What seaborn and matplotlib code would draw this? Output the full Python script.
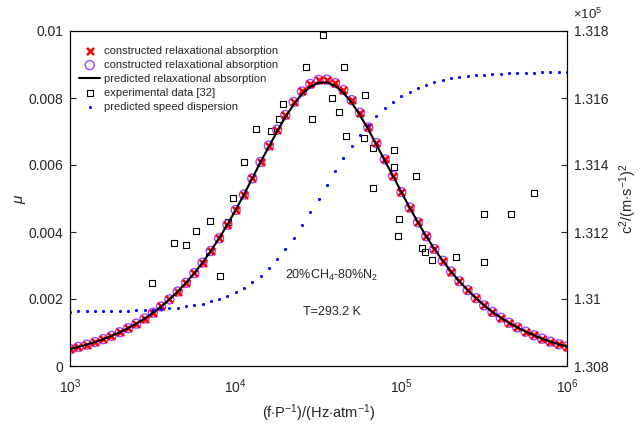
import numpy as np
import pandas as pd
import matplotlib
matplotlib.use("Agg")
import matplotlib.pyplot as plt
import seaborn as sns
from matplotlib.ticker import FixedLocator, LogLocator, NullFormatter

# ---------------- data ----------------
freq = [1000, 1122, 1259, 1413, 1585, 1778, 1995, 2239, 2512, 2818,
        3162, 3548, 3981, 4467, 5012, 5623, 6310, 7079, 7943, 8913,
        10000, 11220, 12589, 14125, 15849, 17783, 19953, 22387, 25119, 28184,
        31623, 35481, 39811, 44668, 50119, 56234, 63096, 70795, 79433, 89125,
        100000, 112202, 125893, 141254, 158489, 177828, 199526, 223872, 251189, 281838,
        316228, 354813, 398107, 446684, 501187, 562341, 630957, 707946, 794328, 891251,
        1000000]

mu_constructed = [0.000506, 0.000568, 0.000637, 0.000714, 0.000801, 0.000898, 0.001007, 0.001129,
                  0.001265, 0.001417, 0.001588, 0.001777, 0.001988, 0.002223, 0.002483, 0.002771,
                  0.003088, 0.003434, 0.003812, 0.004220, 0.004657, 0.005118, 0.005599, 0.006090,
                  0.006580, 0.007054, 0.007494, 0.007881, 0.008196, 0.008420, 0.008541, 0.008550,
                  0.008447, 0.008238, 0.007937, 0.007560, 0.007127, 0.006657, 0.006169, 0.005677,
                  0.005194, 0.004729, 0.004288, 0.003875, 0.003493, 0.003141, 0.002820, 0.002528,
                  0.002263, 0.002024, 0.001809, 0.001616, 0.001443, 0.001288, 0.001150, 0.001026,
                  0.000915, 0.000816, 0.000727, 0.000648, 0.000578]

mu_predicted = [0.000506, 0.000568, 0.000637, 0.000714, 0.000801, 0.000898, 0.001007, 0.001129,
                0.001265, 0.001417, 0.001588, 0.001777, 0.001988, 0.002223, 0.002483, 0.002771,
                0.003088, 0.003434, 0.003812, 0.004220, 0.004657, 0.005118, 0.005599, 0.006090,
                0.006540, 0.007000, 0.007430, 0.007810, 0.008115, 0.008335, 0.008455, 0.008465,
                0.008365, 0.008160, 0.007860, 0.007490, 0.007065, 0.006605, 0.006125, 0.005677,
                0.005194, 0.004729, 0.004288, 0.003875, 0.003493, 0.003141, 0.002820, 0.002528,
                0.002263, 0.002024, 0.001809, 0.001616, 0.001443, 0.001288, 0.001150, 0.001026,
                0.000915, 0.000816, 0.000727, 0.000648, 0.000578]

# squared sound speed, in units of 1e5 (m/s)^2
c2_predicted = [1.309626, 1.309628, 1.309630, 1.309633, 1.309636, 1.309640, 1.309645, 1.309652,
                1.309660, 1.309670, 1.309683, 1.309700, 1.309720, 1.309745, 1.309777, 1.309816,
                1.309865, 1.309926, 1.310001, 1.310093, 1.310206, 1.310342, 1.310506, 1.310701,
                1.310930, 1.311194, 1.311495, 1.311831, 1.312197, 1.312588, 1.312994, 1.313406,
                1.313812, 1.314203, 1.314569, 1.314905, 1.315206, 1.315470, 1.315699, 1.315894,
                1.316058, 1.316194, 1.316307, 1.316399, 1.316474, 1.316535, 1.316584, 1.316623,
                1.316655, 1.316680, 1.316701, 1.316717, 1.316730, 1.316740, 1.316748, 1.316755,
                1.316760, 1.316764, 1.316767, 1.316770, 1.316772]

exp_freq = [3112, 4246, 5012, 5781, 6901, 6998, 8037, 8985, 9683, 11225,
            13207, 16259, 18183, 19230, 26560, 28850, 33800, 37950, 41990, 45190,
            46300, 59200, 60530, 67100, 67630, 90160, 90570, 96340, 95350, 122400,
            132500, 138700, 153000, 214500, 313900, 313900, 460600, 631000]
exp_mu = [0.002469, 0.003663, 0.003603, 0.004021, 0.003412, 0.004319, 0.002687, 0.004307, 0.005024, 0.006081,
          0.007075, 0.007024, 0.007373, 0.007812, 0.008934, 0.007373, 0.009872, 0.008009, 0.007573, 0.008934,
          0.006875, 0.006815, 0.008081, 0.006516, 0.005304, 0.006457, 0.005949, 0.004379, 0.003890, 0.005672,
          0.003522, 0.003403, 0.003173, 0.003254, 0.004528, 0.003113, 0.004528, 0.005164]

left_ticks = [0, 0.002, 0.004, 0.006, 0.008, 0.01]
left_ticklabels = ["0", "0.002", "0.004", "0.006", "0.008", "0.01"]
right_ticks = [1.308, 1.310, 1.312, 1.314, 1.316, 1.318]
right_ticklabels = ["1.308", "1.31", "1.312", "1.314", "1.316", "1.318"]
x_ticks = [1e3, 1e4, 1e5, 1e6]
x_ticklabels = ["$10^{3}$", "$10^{4}$", "$10^{5}$", "$10^{6}$"]

legend_labels = ["constructed relaxational absorption",
                 "constructed relaxational absorption",
                 "predicted relaxational absorption",
                 "experimental data [32]",
                 "predicted speed dispersion"]

# ---------------- style ----------------
sns.set_style("white")
plt.rcParams["font.family"] = ["Liberation Sans", "DejaVu Sans"]
plt.rcParams["mathtext.fontset"] = "custom"
plt.rcParams["mathtext.rm"] = "Liberation Sans"
plt.rcParams["mathtext.it"] = "Liberation Sans:italic"
plt.rcParams["mathtext.bf"] = "Liberation Sans:bold"
plt.rcParams["axes.edgecolor"] = "black"
plt.rcParams["axes.linewidth"] = 0.8

df_main = pd.DataFrame({"f": freq, "mu_c": mu_constructed, "mu_p": mu_predicted, "c2": c2_predicted})
df_exp = pd.DataFrame({"f": exp_freq, "mu": exp_mu})

fig = plt.figure(figsize=(6.44, 4.26), dpi=100)
ax = fig.add_axes([70 / 644, 1 - 366 / 426, 497 / 644, 335 / 426])
ax2 = ax.twinx()
ax2.set_position(ax.get_position())

# left axis: absorption
sns.scatterplot(data=df_main, x="f", y="mu_c", ax=ax, marker="o", s=42,
                facecolors="none", edgecolor="#a347ff", linewidth=1.0,
                label=legend_labels[1], legend=False, zorder=3)
sns.scatterplot(data=df_main, x="f", y="mu_c", ax=ax, marker="x", s=26,
                color="#ff0000", linewidth=1.8, label=legend_labels[0], legend=False, zorder=4)
sns.lineplot(data=df_main, x="f", y="mu_p", ax=ax, color="black", linewidth=1.5,
             label=legend_labels[2], legend=False, zorder=5)
sns.scatterplot(data=df_exp, x="f", y="mu", ax=ax, marker="s", s=18,
                facecolors="none", edgecolor="black", linewidth=0.8,
                label=legend_labels[3], legend=False, zorder=2)

# right axis: speed dispersion
sns.scatterplot(data=df_main, x="f", y="c2", ax=ax2, marker="o", s=5,
                color="#0000ff", linewidth=0, label=legend_labels[4], legend=False, zorder=2)

ax.set_xscale("log")
ax.set_xlim(1e3, 1e6)
ax.set_ylim(0, 0.01)
ax2.set_ylim(1.308, 1.318)

ax.xaxis.set_major_locator(FixedLocator(x_ticks))
ax.set_xticklabels(x_ticklabels)
ax.xaxis.set_minor_locator(LogLocator(base=10, subs=np.arange(2, 10)))
ax.xaxis.set_minor_formatter(NullFormatter())
ax.set_yticks(left_ticks)
ax.set_yticklabels(left_ticklabels)
ax2.set_yticks(right_ticks)
ax2.set_yticklabels(right_ticklabels)

ax.tick_params(axis="x", which="major", direction="in", length=4, width=0.8, labelsize=10, pad=8, top=False)
ax.tick_params(axis="x", which="minor", direction="in", length=2.5, width=0.6, top=False)
ax.tick_params(axis="y", direction="in", length=4, width=0.8, labelsize=10, pad=5, right=False)
ax2.tick_params(axis="y", direction="in", length=4, width=0.8, labelsize=10, pad=5)
for a in (ax, ax2):
    for s in a.spines.values():
        s.set_visible(True)
        s.set_color("black")
        s.set_linewidth(0.8)

ax.set_xlabel("(f$\\cdot$P$^{-1}$)/(Hz$\\cdot$atm$^{-1}$)", fontsize=10.5, labelpad=5)
ax.set_ylabel("$\\mu$", fontsize=11, labelpad=0)
ax2.set_ylabel("c$^2$/(m$\\cdot$s$^{-1}$)$^2$", fontsize=10.5, labelpad=6)
ax2.text(1.012, 1.028, "$\\times10^{5}$", transform=ax2.transAxes, fontsize=9.5,
         ha="left", va="bottom")

ax.text(3.8e4, 0.00269, "20%CH$_4$-80%N$_2$", fontsize=9, ha="center", va="center")
ax.text(3.8e4, 0.00161, "T=293.2 K", fontsize=9, ha="center", va="center")

# legend collecting both axes
h1, l1 = ax.get_legend_handles_labels()
h2, l2 = ax2.get_legend_handles_labels()
handles_all = h1 + h2
labels_all = l1 + l2
order = [1, 0, 2, 3, 4]
leg = ax2.legend([handles_all[i] for i in order], [labels_all[i] for i in order],
                 loc="upper left", bbox_to_anchor=(0.005, 0.975), frameon=False,
                 fontsize=8, handlelength=1.9, handletextpad=0.3, labelspacing=0.36,
                 borderaxespad=0.2, markerscale=1.0)

fig.savefig("out.png", dpi=100)
